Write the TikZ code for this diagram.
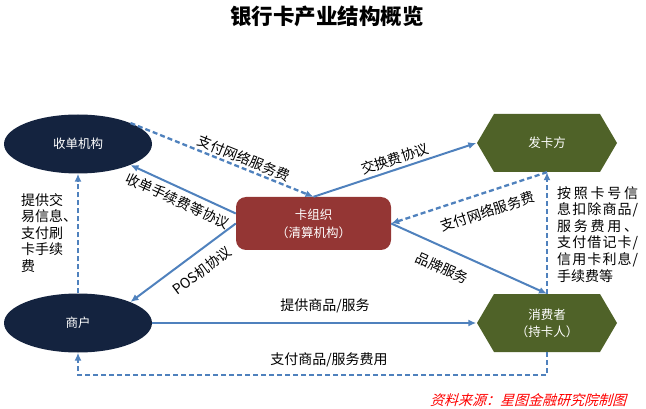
\documentclass[tikz,border=0pt]{standalone}
\usepackage{fontspec}
\setmainfont{Noto Sans CJK SC}
\newfontfamily\slantcjk[FakeSlant=0.28]{Noto Sans CJK SC}
\usetikzlibrary{shapes.geometric,arrows.meta,calc}
\definecolor{navyc}{HTML}{14233F}
\definecolor{redc}{HTML}{943634}
\definecolor{greenc}{HTML}{4F6228}
\definecolor{linec}{HTML}{4F81BD}
\begin{document}
\begin{tikzpicture}[x=1pt,y=-1pt,
  lbl/.style={font=\fontsize{14}{16.6}\selectfont, inner sep=1pt, text=black},
  ntext/.style={text=white, font=\fontsize{12.5}{18}\selectfont, align=center},
  conn/.style={draw=linec, line width=2pt, -{Latex[length=8pt,width=7pt]}},
  dconn/.style={conn, line width=2.3pt, dash pattern=on 5pt off 3pt},
  ell/.style={ellipse, fill=navyc, minimum width=148pt, minimum height=59pt, inner sep=0pt, ntext},
  hexbox/.style={rectangle, minimum width=141pt, minimum height=58pt, inner sep=0pt, ntext}]
\useasboundingbox (0,0) rectangle (646,409);

% title
\node[font=\fontsize{21.5}{24}\selectfont\bfseries] (title) at (327,16) {银行卡产业结构概览};

% nodes
\node[ell] (acq) at (78,144) {收单机构};
\node[ell] (merch) at (78,323) {商户};
\node[rectangle, rounded corners=10pt, fill=redc, minimum width=155pt, minimum height=53pt, ntext] (card) at (313.5,223.5) {卡组织\\（清算机构）};
\fill[greenc] (477,143) -- (494,114) -- (600,114) -- (617,143) -- (600,172) -- (494,172) -- cycle;
\node[hexbox] (iss) at (547,143) {发卡方};
\fill[greenc] (477,323) -- (494,294) -- (600,294) -- (617,323) -- (600,352) -- (494,352) -- cycle;
\node[hexbox, font=\fontsize{12.5}{17}\selectfont] (cons) at (547,323) {消费者\\（持卡人）};

% connectors
\draw[dconn] (acq.north east) -- node[lbl, sloped, above=1pt, pos=0.6] {支付网络服务费} (card.north);
\draw[conn] ($(card.west)+(0,-10)$) -- node[lbl, sloped, below=4pt, pos=0.5] {收单手续费等协议} (acq.south east);
\draw[conn] (card.north) -- node[lbl, sloped, above=2pt, pos=0.52] {交换费协议} (iss.west);
\draw[dconn] (iss.south) -- node[lbl, sloped, below=10pt, pos=0.42] {支付网络服务费} (card.east);
\draw[conn] (card.east) -- node[lbl, sloped, below=11pt, pos=0.38] {品牌服务} (cons.north);
\draw[conn] (card.west) -- node[lbl, sloped, below=9pt, pos=0.42] {POS机协议} (merch.north east);
\draw[conn] (merch.east) -- (cons.west);
\node[lbl] (l7) at (325,306) {提供商品/服务};
\draw[dconn] (cons.south) -- ++(0,23) -| (merch.south);
\node[lbl] (l8) at (329,360) {支付商品/服务费用};
\draw[dconn] (merch.north) -- (acq.south);
\node[lbl, anchor=north west, align=left, inner sep=0pt] (l9) at (21,193) {提供交\\易信息、\\支付刷\\卡手续\\费};
\draw[dconn] (cons.north) -- (iss.south);
\node[lbl, anchor=north west, align=left, inner sep=0pt] (l10) at (557,186) {%
\makebox[81pt][s]{按\hfil 照\hfil 卡\hfil 号\hfil 信}\\
\makebox[81pt][s]{息\hfil 扣\hfil 除\hfil 商\hfil 品\hfil /}\\
\makebox[81pt][s]{服\hfil 务\hfil 费\hfil 用\hfil 、}\\
\makebox[81pt][s]{支\hfil 付\hfil 借\hfil 记\hfil 卡\hfil /}\\
\makebox[81pt][s]{信\hfil 用\hfil 卡\hfil 利\hfil 息\hfil /}\\
手续费等};

% source
\node[text=red, font=\slantcjk\fontsize{14}{16}\selectfont] (src) at (528,400) {资料来源：星图金融研究院制图};
\end{tikzpicture}
\end{document}
